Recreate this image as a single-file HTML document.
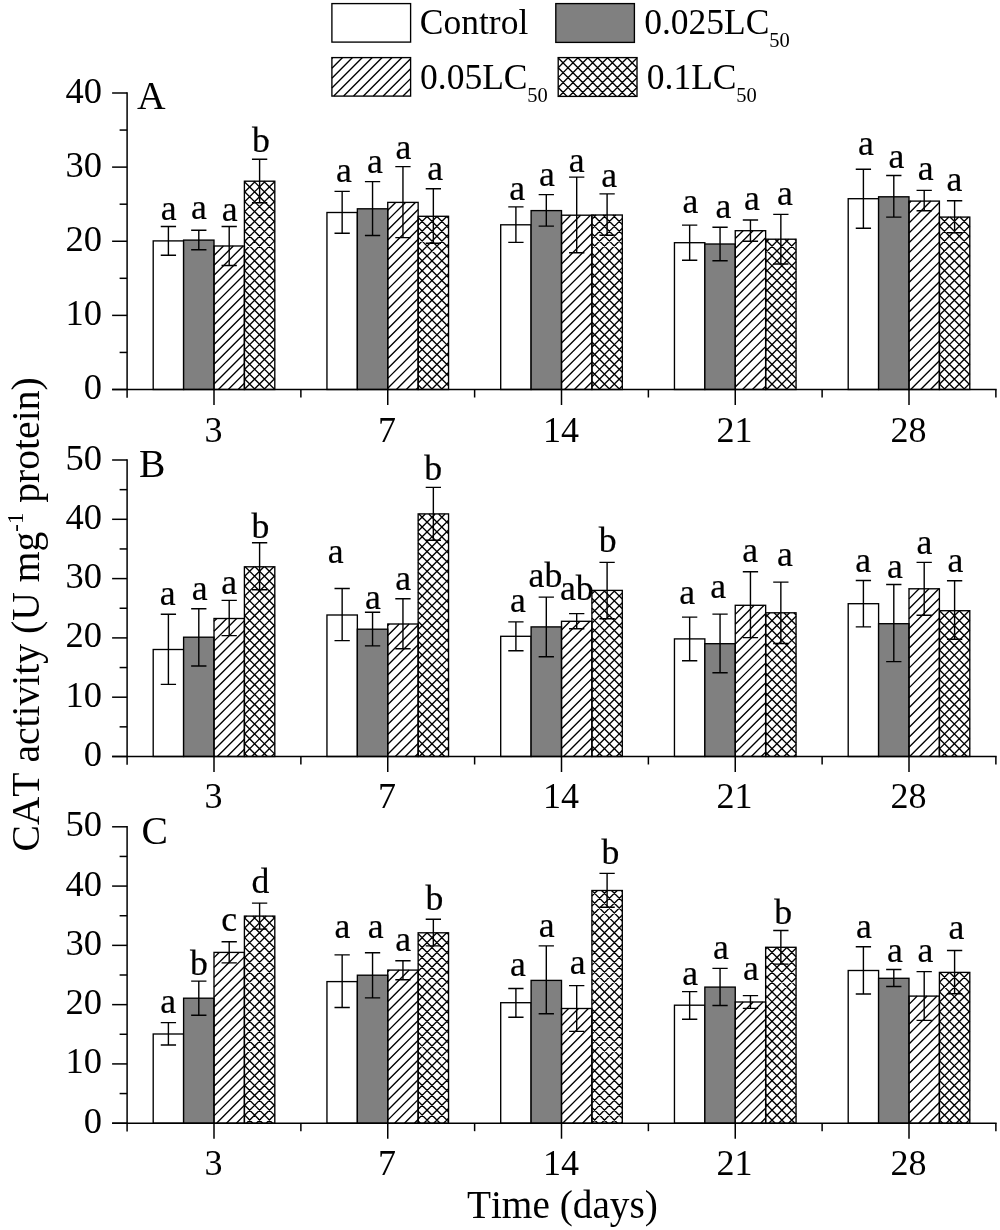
<!DOCTYPE html>
<html><head><meta charset="utf-8"><title>CAT activity</title>
<style>
html,body{margin:0;padding:0;background:#fff;}
body{width:1000px;height:1230px;overflow:hidden;font-family:"Liberation Serif",serif;}
svg{display:block;will-change:transform;}
text{font-kerning:none;}
</style></head><body>
<svg width="1000" height="1230" viewBox="0 0 1000 1230">
<rect width="100%" height="100%" fill="#fff"/>
<g font-family="'Liberation Serif', serif" fill="#000">
<rect x="331.9" y="3.6" width="78.7" height="38.5" fill="#fff" stroke="#000" stroke-width="1.35"/>
<text x="419.8" y="34.2" font-size="35.5">Control</text>
<rect x="555.8" y="3.6" width="78.6" height="38.8" fill="#808080" stroke="#000" stroke-width="1.35"/>
<text x="644.2" y="34.1" font-size="35.5">0.025LC<tspan font-size="20.5" dx="-0.2" dy="13.0">50</tspan></text>
<path d="M331.90 58.41L332.71 57.60M331.90 68.30L342.60 57.60M331.90 78.19L352.49 57.60M331.90 88.08L362.38 57.60M333.77 96.10L372.27 57.60M343.66 96.10L382.16 57.60M353.55 96.10L392.05 57.60M363.44 96.10L401.94 57.60M373.33 96.10L410.60 58.83M383.22 96.10L410.60 68.72M393.11 96.10L410.60 78.61M403.00 96.10L410.60 88.50" stroke="#000" stroke-width="1.35" fill="none"/>
<rect x="331.9" y="57.6" width="78.7" height="38.5" fill="none" stroke="#000" stroke-width="1.35"/>
<text x="420.0" y="88.5" font-size="35.5">0.05LC<tspan font-size="20.5" dx="-0.2" dy="13.0">50</tspan></text>
<path d="M558.20 57.90L558.50 57.60M558.20 67.76L568.36 57.60M558.20 77.61L578.21 57.60M558.20 87.47L588.07 57.60M559.12 96.40L597.92 57.60M568.98 96.40L607.78 57.60M578.84 96.40L617.64 57.60M588.69 96.40L627.49 57.60M598.55 96.40L637.00 57.95M608.40 96.40L637.00 67.80M618.26 96.40L637.00 77.66M628.12 96.40L637.00 87.52M558.20 87.47L567.13 96.40M558.20 77.61L576.99 96.40M558.20 67.76L586.84 96.40M558.20 57.90L596.70 96.40M567.76 57.60L606.56 96.40M577.61 57.60L616.41 96.40M587.47 57.60L626.27 96.40M597.32 57.60L636.12 96.40M607.18 57.60L637.00 87.42M617.04 57.60L637.00 77.56M626.89 57.60L637.00 67.71M636.75 57.60L637.00 57.85" stroke="#000" stroke-width="1.35" fill="none"/>
<rect x="558.2" y="57.6" width="78.8" height="38.8" fill="none" stroke="#000" stroke-width="1.35"/>
<text x="646.8" y="88.5" font-size="35.5">0.1LC<tspan font-size="20.5" dx="-0.2" dy="13.0">50</tspan></text>
<rect x="153.20" y="240.90" width="30.40" height="148.60" fill="#fff" stroke="#000" stroke-width="1.35"/>
<rect x="183.60" y="240.10" width="30.40" height="149.40" fill="#808080" stroke="#000" stroke-width="1.35"/>
<path d="M214.00 255.43L223.43 246.00M214.00 265.32L233.32 246.00M214.00 275.21L243.21 246.00M214.00 285.10L244.40 254.70M214.00 294.99L244.40 264.59M214.00 304.88L244.40 274.48M214.00 314.77L244.40 284.37M214.00 324.66L244.40 294.26M214.00 334.55L244.40 304.15M214.00 344.44L244.40 314.04M214.00 354.33L244.40 323.93M214.00 364.22L244.40 333.82M214.00 374.11L244.40 343.71M214.00 384.00L244.40 353.60M218.39 389.50L244.40 363.49M228.28 389.50L244.40 373.38M238.17 389.50L244.40 383.27" stroke="#000" stroke-width="1.35" fill="none"/>
<rect x="214.00" y="246.00" width="30.40" height="143.50" fill="none" stroke="#000" stroke-width="1.35"/>
<path d="M244.40 182.31L245.51 181.20M244.40 192.16L255.36 181.20M244.40 202.02L265.22 181.20M244.40 211.88L274.80 181.48M244.40 221.73L274.80 191.33M244.40 231.59L274.80 201.19M244.40 241.44L274.80 211.04M244.40 251.30L274.80 220.90M244.40 261.16L274.80 230.76M244.40 271.01L274.80 240.61M244.40 280.87L274.80 250.47M244.40 290.72L274.80 260.32M244.40 300.58L274.80 270.18M244.40 310.44L274.80 280.04M244.40 320.29L274.80 289.89M244.40 330.15L274.80 299.75M244.40 340.00L274.80 309.60M244.40 349.86L274.80 319.46M244.40 359.72L274.80 329.32M244.40 369.57L274.80 339.17M244.40 379.43L274.80 349.03M244.40 389.28L274.80 358.88M254.04 389.50L274.80 368.74M263.90 389.50L274.80 378.60M273.75 389.50L274.80 388.45M244.40 388.64L245.26 389.50M244.40 378.78L255.12 389.50M244.40 368.93L264.97 389.50M244.40 359.07L274.80 389.47M244.40 349.22L274.80 379.62M244.40 339.36L274.80 369.76M244.40 329.50L274.80 359.90M244.40 319.65L274.80 350.05M244.40 309.79L274.80 340.19M244.40 299.94L274.80 330.34M244.40 290.08L274.80 320.48M244.40 280.22L274.80 310.62M244.40 270.37L274.80 300.77M244.40 260.51L274.80 290.91M244.40 250.66L274.80 281.06M244.40 240.80L274.80 271.20M244.40 230.94L274.80 261.34M244.40 221.09L274.80 251.49M244.40 211.23L274.80 241.63M244.40 201.38L274.80 231.78M244.40 191.52L274.80 221.92M244.40 181.66L274.80 212.06M253.79 181.20L274.80 202.21M263.65 181.20L274.80 192.35M273.50 181.20L274.80 182.50" stroke="#000" stroke-width="1.35" fill="none"/>
<rect x="244.40" y="181.20" width="30.40" height="208.30" fill="none" stroke="#000" stroke-width="1.35"/>
<rect x="326.95" y="212.50" width="30.40" height="177.00" fill="#fff" stroke="#000" stroke-width="1.35"/>
<rect x="357.35" y="208.80" width="30.40" height="180.70" fill="#808080" stroke="#000" stroke-width="1.35"/>
<path d="M387.75 210.25L395.60 202.40M387.75 220.14L405.49 202.40M387.75 230.03L415.38 202.40M387.75 239.92L418.15 209.52M387.75 249.81L418.15 219.41M387.75 259.70L418.15 229.30M387.75 269.59L418.15 239.19M387.75 279.48L418.15 249.08M387.75 289.37L418.15 258.97M387.75 299.26L418.15 268.86M387.75 309.15L418.15 278.75M387.75 319.04L418.15 288.64M387.75 328.93L418.15 298.53M387.75 338.82L418.15 308.42M387.75 348.71L418.15 318.31M387.75 358.60L418.15 328.20M387.75 368.49L418.15 338.09M387.75 378.38L418.15 347.98M387.75 388.27L418.15 357.87M396.41 389.50L418.15 367.76M406.30 389.50L418.15 377.65M416.19 389.50L418.15 387.54" stroke="#000" stroke-width="1.35" fill="none"/>
<rect x="387.75" y="202.40" width="30.40" height="187.10" fill="none" stroke="#000" stroke-width="1.35"/>
<path d="M418.15 225.39L427.24 216.30M418.15 235.25L437.10 216.30M418.15 245.10L446.95 216.30M418.15 254.96L448.55 224.56M418.15 264.81L448.55 234.41M418.15 274.67L448.55 244.27M418.15 284.53L448.55 254.13M418.15 294.38L448.55 263.98M418.15 304.24L448.55 273.84M418.15 314.09L448.55 283.69M418.15 323.95L448.55 293.55M418.15 333.81L448.55 303.41M418.15 343.66L448.55 313.26M418.15 353.52L448.55 323.12M418.15 363.37L448.55 332.97M418.15 373.23L448.55 342.83M418.15 383.09L448.55 352.69M421.59 389.50L448.55 362.54M431.45 389.50L448.55 372.40M441.30 389.50L448.55 382.25M418.15 384.98L422.67 389.50M418.15 375.13L432.52 389.50M418.15 365.27L442.38 389.50M418.15 355.41L448.55 385.81M418.15 345.56L448.55 375.96M418.15 335.70L448.55 366.10M418.15 325.85L448.55 356.25M418.15 315.99L448.55 346.39M418.15 306.13L448.55 336.53M418.15 296.28L448.55 326.68M418.15 286.42L448.55 316.82M418.15 276.57L448.55 306.97M418.15 266.71L448.55 297.11M418.15 256.85L448.55 287.25M418.15 247.00L448.55 277.40M418.15 237.14L448.55 267.54M418.15 227.29L448.55 257.69M418.15 217.43L448.55 247.83M426.88 216.30L448.55 237.97M436.73 216.30L448.55 228.12M446.59 216.30L448.55 218.26" stroke="#000" stroke-width="1.35" fill="none"/>
<rect x="418.15" y="216.30" width="30.40" height="173.20" fill="none" stroke="#000" stroke-width="1.35"/>
<rect x="500.70" y="224.80" width="30.40" height="164.70" fill="#fff" stroke="#000" stroke-width="1.35"/>
<rect x="531.10" y="210.60" width="30.40" height="178.90" fill="#808080" stroke="#000" stroke-width="1.35"/>
<path d="M561.50 224.41L570.71 215.20M561.50 234.30L580.60 215.20M561.50 244.19L590.49 215.20M561.50 254.08L591.90 223.68M561.50 263.97L591.90 233.57M561.50 273.86L591.90 243.46M561.50 283.75L591.90 253.35M561.50 293.64L591.90 263.24M561.50 303.53L591.90 273.13M561.50 313.42L591.90 283.02M561.50 323.31L591.90 292.91M561.50 333.20L591.90 302.80M561.50 343.09L591.90 312.69M561.50 352.98L591.90 322.58M561.50 362.87L591.90 332.47M561.50 372.76L591.90 342.36M561.50 382.65L591.90 352.25M564.54 389.50L591.90 362.14M574.43 389.50L591.90 372.03M584.32 389.50L591.90 381.92" stroke="#000" stroke-width="1.35" fill="none"/>
<rect x="561.50" y="215.20" width="30.40" height="174.30" fill="none" stroke="#000" stroke-width="1.35"/>
<path d="M591.90 219.19L596.09 215.00M591.90 229.05L605.95 215.00M591.90 238.90L615.80 215.00M591.90 248.76L622.30 218.36M591.90 258.62L622.30 228.22M591.90 268.47L622.30 238.07M591.90 278.33L622.30 247.93M591.90 288.18L622.30 257.78M591.90 298.04L622.30 267.64M591.90 307.90L622.30 277.50M591.90 317.75L622.30 287.35M591.90 327.61L622.30 297.21M591.90 337.46L622.30 307.06M591.90 347.32L622.30 316.92M591.90 357.18L622.30 326.78M591.90 367.03L622.30 336.63M591.90 376.89L622.30 346.49M591.90 386.74L622.30 356.34M599.00 389.50L622.30 366.20M608.86 389.50L622.30 376.06M618.71 389.50L622.30 385.91M591.90 381.32L600.08 389.50M591.90 371.47L609.93 389.50M591.90 361.61L619.79 389.50M591.90 351.76L622.30 382.16M591.90 341.90L622.30 372.30M591.90 332.04L622.30 362.44M591.90 322.19L622.30 352.59M591.90 312.33L622.30 342.73M591.90 302.48L622.30 332.88M591.90 292.62L622.30 323.02M591.90 282.76L622.30 313.16M591.90 272.91L622.30 303.31M591.90 263.05L622.30 293.45M591.90 253.20L622.30 283.60M591.90 243.34L622.30 273.74M591.90 233.48L622.30 263.88M591.90 223.63L622.30 254.03M593.13 215.00L622.30 244.17M602.98 215.00L622.30 234.32M612.84 215.00L622.30 224.46" stroke="#000" stroke-width="1.35" fill="none"/>
<rect x="591.90" y="215.00" width="30.40" height="174.50" fill="none" stroke="#000" stroke-width="1.35"/>
<rect x="674.45" y="242.70" width="30.40" height="146.80" fill="#fff" stroke="#000" stroke-width="1.35"/>
<rect x="704.85" y="244.00" width="30.40" height="145.50" fill="#808080" stroke="#000" stroke-width="1.35"/>
<path d="M735.25 238.57L743.12 230.70M735.25 248.46L753.01 230.70M735.25 258.35L762.90 230.70M735.25 268.24L765.65 237.84M735.25 278.13L765.65 247.73M735.25 288.02L765.65 257.62M735.25 297.91L765.65 267.51M735.25 307.80L765.65 277.40M735.25 317.69L765.65 287.29M735.25 327.58L765.65 297.18M735.25 337.47L765.65 307.07M735.25 347.36L765.65 316.96M735.25 357.25L765.65 326.85M735.25 367.14L765.65 336.74M735.25 377.03L765.65 346.63M735.25 386.92L765.65 356.52M742.56 389.50L765.65 366.41M752.45 389.50L765.65 376.30M762.34 389.50L765.65 386.19" stroke="#000" stroke-width="1.35" fill="none"/>
<rect x="735.25" y="230.70" width="30.40" height="158.80" fill="none" stroke="#000" stroke-width="1.35"/>
<path d="M765.65 242.56L769.01 239.20M765.65 252.42L778.87 239.20M765.65 262.27L788.72 239.20M765.65 272.13L796.05 241.73M765.65 281.99L796.05 251.59M765.65 291.84L796.05 261.44M765.65 301.70L796.05 271.30M765.65 311.55L796.05 281.15M765.65 321.41L796.05 291.01M765.65 331.27L796.05 300.87M765.65 341.12L796.05 310.72M765.65 350.98L796.05 320.58M765.65 360.83L796.05 330.43M765.65 370.69L796.05 340.29M765.65 380.55L796.05 350.15M766.55 389.50L796.05 360.00M776.41 389.50L796.05 369.86M786.26 389.50L796.05 379.71M765.65 387.52L767.63 389.50M765.65 377.67L777.48 389.50M765.65 367.81L787.34 389.50M765.65 357.95L796.05 388.35M765.65 348.10L796.05 378.50M765.65 338.24L796.05 368.64M765.65 328.39L796.05 358.79M765.65 318.53L796.05 348.93M765.65 308.67L796.05 339.07M765.65 298.82L796.05 329.22M765.65 288.96L796.05 319.36M765.65 279.11L796.05 309.51M765.65 269.25L796.05 299.65M765.65 259.39L796.05 289.79M765.65 249.54L796.05 279.94M765.65 239.68L796.05 270.08M775.02 239.20L796.05 260.23M784.88 239.20L796.05 250.37M794.74 239.20L796.05 240.51" stroke="#000" stroke-width="1.35" fill="none"/>
<rect x="765.65" y="239.20" width="30.40" height="150.30" fill="none" stroke="#000" stroke-width="1.35"/>
<rect x="848.20" y="198.70" width="30.40" height="190.80" fill="#fff" stroke="#000" stroke-width="1.35"/>
<rect x="878.60" y="196.80" width="30.40" height="192.70" fill="#808080" stroke="#000" stroke-width="1.35"/>
<path d="M909.00 203.28L911.18 201.10M909.00 213.17L921.07 201.10M909.00 223.06L930.96 201.10M909.00 232.95L939.40 202.55M909.00 242.84L939.40 212.44M909.00 252.73L939.40 222.33M909.00 262.62L939.40 232.22M909.00 272.51L939.40 242.11M909.00 282.40L939.40 252.00M909.00 292.29L939.40 261.89M909.00 302.18L939.40 271.78M909.00 312.07L939.40 281.67M909.00 321.96L939.40 291.56M909.00 331.85L939.40 301.45M909.00 341.74L939.40 311.34M909.00 351.63L939.40 321.23M909.00 361.52L939.40 331.12M909.00 371.41L939.40 341.01M909.00 381.30L939.40 350.90M910.69 389.50L939.40 360.79M920.58 389.50L939.40 370.68M930.47 389.50L939.40 380.57" stroke="#000" stroke-width="1.35" fill="none"/>
<rect x="909.00" y="201.10" width="30.40" height="188.40" fill="none" stroke="#000" stroke-width="1.35"/>
<path d="M939.40 226.51L948.81 217.10M939.40 236.36L958.66 217.10M939.40 246.22L968.52 217.10M939.40 256.08L969.80 225.68M939.40 265.93L969.80 235.53M939.40 275.79L969.80 245.39M939.40 285.64L969.80 255.24M939.40 295.50L969.80 265.10M939.40 305.36L969.80 274.96M939.40 315.21L969.80 284.81M939.40 325.07L969.80 294.67M939.40 334.92L969.80 304.52M939.40 344.78L969.80 314.38M939.40 354.64L969.80 324.24M939.40 364.49L969.80 334.09M939.40 374.35L969.80 343.95M939.40 384.20L969.80 353.80M943.96 389.50L969.80 363.66M953.82 389.50L969.80 373.52M963.67 389.50L969.80 383.37M939.40 383.86L945.04 389.50M939.40 374.01L954.89 389.50M939.40 364.15L964.75 389.50M939.40 354.30L969.80 384.70M939.40 344.44L969.80 374.84M939.40 334.58L969.80 364.98M939.40 324.73L969.80 355.13M939.40 314.87L969.80 345.27M939.40 305.02L969.80 335.42M939.40 295.16L969.80 325.56M939.40 285.30L969.80 315.70M939.40 275.45L969.80 305.85M939.40 265.59L969.80 295.99M939.40 255.74L969.80 286.14M939.40 245.88L969.80 276.28M939.40 236.02L969.80 266.42M939.40 226.17L969.80 256.57M940.19 217.10L969.80 246.71M950.04 217.10L969.80 236.86M959.90 217.10L969.80 227.00" stroke="#000" stroke-width="1.35" fill="none"/>
<rect x="939.40" y="217.10" width="30.40" height="172.40" fill="none" stroke="#000" stroke-width="1.35"/>
<path d="M168.40 226.50 V255.30 M160.75 226.50 H176.05 M160.75 255.30 H176.05" stroke="#000" stroke-width="1.40" fill="none"/>
<text transform="translate(168.6,219.6) scale(1.020,1)" font-size="35.0" text-anchor="middle" stroke="#000" stroke-width="0.2">a</text>
<path d="M198.80 230.30 V249.70 M191.15 230.30 H206.45 M191.15 249.70 H206.45" stroke="#000" stroke-width="1.40" fill="none"/>
<text transform="translate(199.0,218.8) scale(1.020,1)" font-size="35.0" text-anchor="middle" stroke="#000" stroke-width="0.2">a</text>
<path d="M229.20 226.50 V265.50 M221.55 226.50 H236.85 M221.55 265.50 H236.85" stroke="#000" stroke-width="1.40" fill="none"/>
<text transform="translate(229.6,220.8) scale(1.020,1)" font-size="35.0" text-anchor="middle" stroke="#000" stroke-width="0.2">a</text>
<path d="M259.60 159.30 V202.80 M251.95 159.30 H267.25 M251.95 202.80 H267.25" stroke="#000" stroke-width="1.40" fill="none"/>
<text transform="translate(260.8,152.3) scale(1.020,1)" font-size="35.0" text-anchor="middle" stroke="#000" stroke-width="0.2">b</text>
<path d="M342.15 191.40 V233.30 M334.50 191.40 H349.80 M334.50 233.30 H349.80" stroke="#000" stroke-width="1.40" fill="none"/>
<text transform="translate(344.0,182.3) scale(1.020,1)" font-size="35.0" text-anchor="middle" stroke="#000" stroke-width="0.2">a</text>
<path d="M372.55 181.60 V235.50 M364.90 181.60 H380.20 M364.90 235.50 H380.20" stroke="#000" stroke-width="1.40" fill="none"/>
<text transform="translate(374.9,172.8) scale(1.020,1)" font-size="35.0" text-anchor="middle" stroke="#000" stroke-width="0.2">a</text>
<path d="M402.95 166.60 V237.60 M395.30 166.60 H410.60 M395.30 237.60 H410.60" stroke="#000" stroke-width="1.40" fill="none"/>
<text transform="translate(403.5,159.2) scale(1.020,1)" font-size="35.0" text-anchor="middle" stroke="#000" stroke-width="0.2">a</text>
<path d="M433.35 188.80 V243.20 M425.70 188.80 H441.00 M425.70 243.20 H441.00" stroke="#000" stroke-width="1.40" fill="none"/>
<text transform="translate(435.2,180.2) scale(1.020,1)" font-size="35.0" text-anchor="middle" stroke="#000" stroke-width="0.2">a</text>
<path d="M515.90 206.90 V242.40 M508.25 206.90 H523.55 M508.25 242.40 H523.55" stroke="#000" stroke-width="1.40" fill="none"/>
<text transform="translate(517.2,199.9) scale(1.020,1)" font-size="35.0" text-anchor="middle" stroke="#000" stroke-width="0.2">a</text>
<path d="M546.30 194.60 V226.10 M538.65 194.60 H553.95 M538.65 226.10 H553.95" stroke="#000" stroke-width="1.40" fill="none"/>
<text transform="translate(546.8,186.3) scale(1.020,1)" font-size="35.0" text-anchor="middle" stroke="#000" stroke-width="0.2">a</text>
<path d="M576.70 177.10 V252.80 M569.05 177.10 H584.35 M569.05 252.80 H584.35" stroke="#000" stroke-width="1.40" fill="none"/>
<text transform="translate(576.7,172.2) scale(1.020,1)" font-size="35.0" text-anchor="middle" stroke="#000" stroke-width="0.2">a</text>
<path d="M607.10 193.90 V235.20 M599.45 193.90 H614.75 M599.45 235.20 H614.75" stroke="#000" stroke-width="1.40" fill="none"/>
<text transform="translate(609.2,186.7) scale(1.020,1)" font-size="35.0" text-anchor="middle" stroke="#000" stroke-width="0.2">a</text>
<path d="M689.65 225.10 V260.30 M682.00 225.10 H697.30 M682.00 260.30 H697.30" stroke="#000" stroke-width="1.40" fill="none"/>
<text transform="translate(690.4,213.1) scale(1.020,1)" font-size="35.0" text-anchor="middle" stroke="#000" stroke-width="0.2">a</text>
<path d="M720.05 227.20 V260.80 M712.40 227.20 H727.70 M712.40 260.80 H727.70" stroke="#000" stroke-width="1.40" fill="none"/>
<text transform="translate(723.5,218.1) scale(1.020,1)" font-size="35.0" text-anchor="middle" stroke="#000" stroke-width="0.2">a</text>
<path d="M750.45 220.00 V241.30 M742.80 220.00 H758.10 M742.80 241.30 H758.10" stroke="#000" stroke-width="1.40" fill="none"/>
<text transform="translate(752.0,210.3) scale(1.020,1)" font-size="35.0" text-anchor="middle" stroke="#000" stroke-width="0.2">a</text>
<path d="M780.85 214.40 V264.00 M773.20 214.40 H788.50 M773.20 264.00 H788.50" stroke="#000" stroke-width="1.40" fill="none"/>
<text transform="translate(784.8,205.1) scale(1.020,1)" font-size="35.0" text-anchor="middle" stroke="#000" stroke-width="0.2">a</text>
<path d="M863.40 169.30 V228.30 M855.75 169.30 H871.05 M855.75 228.30 H871.05" stroke="#000" stroke-width="1.40" fill="none"/>
<text transform="translate(866.0,155.4) scale(1.020,1)" font-size="35.0" text-anchor="middle" stroke="#000" stroke-width="0.2">a</text>
<path d="M893.80 175.50 V217.10 M886.15 175.50 H901.45 M886.15 217.10 H901.45" stroke="#000" stroke-width="1.40" fill="none"/>
<text transform="translate(896.4,167.9) scale(1.020,1)" font-size="35.0" text-anchor="middle" stroke="#000" stroke-width="0.2">a</text>
<path d="M924.20 190.40 V210.70 M916.55 190.40 H931.85 M916.55 210.70 H931.85" stroke="#000" stroke-width="1.40" fill="none"/>
<text transform="translate(925.7,180.2) scale(1.020,1)" font-size="35.0" text-anchor="middle" stroke="#000" stroke-width="0.2">a</text>
<path d="M954.60 200.80 V232.80 M946.95 200.80 H962.25 M946.95 232.80 H962.25" stroke="#000" stroke-width="1.40" fill="none"/>
<text transform="translate(954.5,191.2) scale(1.020,1)" font-size="35.0" text-anchor="middle" stroke="#000" stroke-width="0.2">a</text>
<path d="M127.10 92.25 V397.80" stroke="#000" stroke-width="1.50" fill="none"/>
<path d="M112.10 389.50 H996.65" stroke="#000" stroke-width="1.50" fill="none"/>
<path d="M112.10 389.50 H127.10" stroke="#000" stroke-width="1.50"/>
<text x="102.1" y="399.0" font-size="36.5" text-anchor="end">0</text>
<path d="M119.60 352.44 H127.10" stroke="#000" stroke-width="1.50"/>
<path d="M112.10 315.38 H127.10" stroke="#000" stroke-width="1.50"/>
<text x="102.1" y="324.9" font-size="36.5" text-anchor="end">10</text>
<path d="M119.60 278.31 H127.10" stroke="#000" stroke-width="1.50"/>
<path d="M112.10 241.25 H127.10" stroke="#000" stroke-width="1.50"/>
<text x="102.1" y="250.8" font-size="36.5" text-anchor="end">20</text>
<path d="M119.60 204.19 H127.10" stroke="#000" stroke-width="1.50"/>
<path d="M112.10 167.12 H127.10" stroke="#000" stroke-width="1.50"/>
<text x="102.1" y="176.6" font-size="36.5" text-anchor="end">30</text>
<path d="M119.60 130.06 H127.10" stroke="#000" stroke-width="1.50"/>
<path d="M112.10 93.00 H127.10" stroke="#000" stroke-width="1.50"/>
<text x="102.1" y="102.5" font-size="36.5" text-anchor="end">40</text>
<path d="M214.00 389.50 V405.00" stroke="#000" stroke-width="1.50"/>
<text x="213.4" y="441.7" font-size="36" text-anchor="middle">3</text>
<path d="M300.88 389.50 V397.50" stroke="#000" stroke-width="1.50"/>
<path d="M387.75 389.50 V405.00" stroke="#000" stroke-width="1.50"/>
<text x="387.1" y="441.7" font-size="36" text-anchor="middle">7</text>
<path d="M474.62 389.50 V397.50" stroke="#000" stroke-width="1.50"/>
<path d="M561.50 389.50 V405.00" stroke="#000" stroke-width="1.50"/>
<text x="560.9" y="441.7" font-size="36" text-anchor="middle">14</text>
<path d="M648.38 389.50 V397.50" stroke="#000" stroke-width="1.50"/>
<path d="M735.25 389.50 V405.00" stroke="#000" stroke-width="1.50"/>
<text x="734.6" y="441.7" font-size="36" text-anchor="middle">21</text>
<path d="M822.12 389.50 V397.50" stroke="#000" stroke-width="1.50"/>
<path d="M909.00 389.50 V405.00" stroke="#000" stroke-width="1.50"/>
<text x="908.4" y="441.7" font-size="36" text-anchor="middle">28</text>
<path d="M995.88 389.50 V397.50" stroke="#000" stroke-width="1.50"/>
<text x="137.0" y="108.5" font-size="39.6">A</text>
<rect x="153.20" y="649.50" width="30.40" height="107.00" fill="#fff" stroke="#000" stroke-width="1.35"/>
<rect x="183.60" y="637.20" width="30.40" height="119.30" fill="#808080" stroke="#000" stroke-width="1.35"/>
<path d="M214.00 621.36L216.86 618.50M214.00 631.25L226.75 618.50M214.00 641.14L236.64 618.50M214.00 651.03L244.40 620.63M214.00 660.92L244.40 630.52M214.00 670.81L244.40 640.41M214.00 680.70L244.40 650.30M214.00 690.59L244.40 660.19M214.00 700.48L244.40 670.08M214.00 710.37L244.40 679.97M214.00 720.26L244.40 689.86M214.00 730.15L244.40 699.75M214.00 740.04L244.40 709.64M214.00 749.93L244.40 719.53M217.32 756.50L244.40 729.42M227.21 756.50L244.40 739.31M237.10 756.50L244.40 749.20" stroke="#000" stroke-width="1.35" fill="none"/>
<rect x="214.00" y="618.50" width="30.40" height="138.00" fill="none" stroke="#000" stroke-width="1.35"/>
<path d="M244.40 576.55L254.15 566.80M244.40 586.40L264.00 566.80M244.40 596.26L273.86 566.80M244.40 606.12L274.80 575.72M244.40 615.97L274.80 585.57M244.40 625.83L274.80 595.43M244.40 635.68L274.80 605.28M244.40 645.54L274.80 615.14M244.40 655.40L274.80 625.00M244.40 665.25L274.80 634.85M244.40 675.11L274.80 644.71M244.40 684.96L274.80 654.56M244.40 694.82L274.80 664.42M244.40 704.68L274.80 674.28M244.40 714.53L274.80 684.13M244.40 724.39L274.80 693.99M244.40 734.24L274.80 703.84M244.40 744.10L274.80 713.70M244.40 753.96L274.80 723.56M251.71 756.50L274.80 733.41M261.57 756.50L274.80 743.27M271.42 756.50L274.80 753.12M244.40 753.31L247.59 756.50M244.40 743.46L257.44 756.50M244.40 733.60L267.30 756.50M244.40 723.74L274.80 754.14M244.40 713.89L274.80 744.29M244.40 704.03L274.80 734.43M244.40 694.18L274.80 724.58M244.40 684.32L274.80 714.72M244.40 674.46L274.80 704.86M244.40 664.61L274.80 695.01M244.40 654.75L274.80 685.15M244.40 644.90L274.80 675.30M244.40 635.04L274.80 665.44M244.40 625.18L274.80 655.58M244.40 615.33L274.80 645.73M244.40 605.47L274.80 635.87M244.40 595.62L274.80 626.02M244.40 585.76L274.80 616.16M244.40 575.90L274.80 606.30M245.15 566.80L274.80 596.45M255.01 566.80L274.80 586.59M264.86 566.80L274.80 576.74M274.72 566.80L274.80 566.88" stroke="#000" stroke-width="1.35" fill="none"/>
<rect x="244.40" y="566.80" width="30.40" height="189.70" fill="none" stroke="#000" stroke-width="1.35"/>
<rect x="326.95" y="615.00" width="30.40" height="141.50" fill="#fff" stroke="#000" stroke-width="1.35"/>
<rect x="357.35" y="629.20" width="30.40" height="127.30" fill="#808080" stroke="#000" stroke-width="1.35"/>
<path d="M387.75 625.63L389.38 624.00M387.75 635.52L399.27 624.00M387.75 645.41L409.16 624.00M387.75 655.30L418.15 624.90M387.75 665.19L418.15 634.79M387.75 675.08L418.15 644.68M387.75 684.97L418.15 654.57M387.75 694.86L418.15 664.46M387.75 704.75L418.15 674.35M387.75 714.64L418.15 684.24M387.75 724.53L418.15 694.13M387.75 734.42L418.15 704.02M387.75 744.31L418.15 713.91M387.75 754.20L418.15 723.80M395.34 756.50L418.15 733.69M405.23 756.50L418.15 743.58M415.12 756.50L418.15 753.47" stroke="#000" stroke-width="1.35" fill="none"/>
<rect x="387.75" y="624.00" width="30.40" height="132.50" fill="none" stroke="#000" stroke-width="1.35"/>
<path d="M418.15 521.07L425.32 513.90M418.15 530.93L435.18 513.90M418.15 540.78L445.03 513.90M418.15 550.64L448.55 520.24M418.15 560.49L448.55 530.09M418.15 570.35L448.55 539.95M418.15 580.21L448.55 549.81M418.15 590.06L448.55 559.66M418.15 599.92L448.55 569.52M418.15 609.77L448.55 579.37M418.15 619.63L448.55 589.23M418.15 629.49L448.55 599.09M418.15 639.34L448.55 608.94M418.15 649.20L448.55 618.80M418.15 659.05L448.55 628.65M418.15 668.91L448.55 638.51M418.15 678.77L448.55 648.37M418.15 688.62L448.55 658.22M418.15 698.48L448.55 668.08M418.15 708.33L448.55 677.93M418.15 718.19L448.55 687.79M418.15 728.05L448.55 697.65M418.15 737.90L448.55 707.50M418.15 747.76L448.55 717.36M419.26 756.50L448.55 727.21M429.12 756.50L448.55 737.07M438.98 756.50L448.55 746.93M418.15 749.65L425.00 756.50M418.15 739.80L434.85 756.50M418.15 729.94L444.71 756.50M418.15 720.09L448.55 750.49M418.15 710.23L448.55 740.63M418.15 700.37L448.55 730.77M418.15 690.52L448.55 720.92M418.15 680.66L448.55 711.06M418.15 670.81L448.55 701.21M418.15 660.95L448.55 691.35M418.15 651.09L448.55 681.49M418.15 641.24L448.55 671.64M418.15 631.38L448.55 661.78M418.15 621.53L448.55 651.93M418.15 611.67L448.55 642.07M418.15 601.81L448.55 632.21M418.15 591.96L448.55 622.36M418.15 582.10L448.55 612.50M418.15 572.25L448.55 602.65M418.15 562.39L448.55 592.79M418.15 552.53L448.55 582.93M418.15 542.68L448.55 573.08M418.15 532.82L448.55 563.22M418.15 522.97L448.55 553.37M418.94 513.90L448.55 543.51M428.80 513.90L448.55 533.65M438.65 513.90L448.55 523.80" stroke="#000" stroke-width="1.35" fill="none"/>
<rect x="418.15" y="513.90" width="30.40" height="242.60" fill="none" stroke="#000" stroke-width="1.35"/>
<rect x="500.70" y="636.30" width="30.40" height="120.20" fill="#fff" stroke="#000" stroke-width="1.35"/>
<rect x="531.10" y="626.90" width="30.40" height="129.60" fill="#808080" stroke="#000" stroke-width="1.35"/>
<path d="M561.50 629.90L570.10 621.30M561.50 639.79L579.99 621.30M561.50 649.68L589.88 621.30M561.50 659.57L591.90 629.17M561.50 669.46L591.90 639.06M561.50 679.35L591.90 648.95M561.50 689.24L591.90 658.84M561.50 699.13L591.90 668.73M561.50 709.02L591.90 678.62M561.50 718.91L591.90 688.51M561.50 728.80L591.90 698.40M561.50 738.69L591.90 708.29M561.50 748.58L591.90 718.18M563.47 756.50L591.90 728.07M573.36 756.50L591.90 737.96M583.25 756.50L591.90 747.85" stroke="#000" stroke-width="1.35" fill="none"/>
<rect x="561.50" y="621.30" width="30.40" height="135.20" fill="none" stroke="#000" stroke-width="1.35"/>
<path d="M591.90 593.72L595.22 590.40M591.90 603.58L605.08 590.40M591.90 613.43L614.93 590.40M591.90 623.29L622.30 592.89M591.90 633.14L622.30 602.74M591.90 643.00L622.30 612.60M591.90 652.86L622.30 622.46M591.90 662.71L622.30 632.31M591.90 672.57L622.30 642.17M591.90 682.42L622.30 652.02M591.90 692.28L622.30 661.88M591.90 702.14L622.30 671.74M591.90 711.99L622.30 681.59M591.90 721.85L622.30 691.45M591.90 731.70L622.30 701.30M591.90 741.56L622.30 711.16M591.90 751.42L622.30 721.02M596.67 756.50L622.30 730.87M606.53 756.50L622.30 740.73M616.38 756.50L622.30 750.58M591.90 755.85L592.55 756.50M591.90 746.00L602.40 756.50M591.90 736.14L612.26 756.50M591.90 726.28L622.12 756.50M591.90 716.43L622.30 746.83M591.90 706.57L622.30 736.97M591.90 696.72L622.30 727.12M591.90 686.86L622.30 717.26M591.90 677.00L622.30 707.40M591.90 667.15L622.30 697.55M591.90 657.29L622.30 687.69M591.90 647.44L622.30 677.84M591.90 637.58L622.30 667.98M591.90 627.72L622.30 658.12M591.90 617.87L622.30 648.27M591.90 608.01L622.30 638.41M591.90 598.16L622.30 628.56M594.00 590.40L622.30 618.70M603.86 590.40L622.30 608.84M613.71 590.40L622.30 598.99" stroke="#000" stroke-width="1.35" fill="none"/>
<rect x="591.90" y="590.40" width="30.40" height="166.10" fill="none" stroke="#000" stroke-width="1.35"/>
<rect x="674.45" y="638.90" width="30.40" height="117.60" fill="#fff" stroke="#000" stroke-width="1.35"/>
<rect x="704.85" y="643.70" width="30.40" height="112.80" fill="#808080" stroke="#000" stroke-width="1.35"/>
<path d="M735.25 614.39L744.34 605.30M735.25 624.28L754.23 605.30M735.25 634.17L764.12 605.30M735.25 644.06L765.65 613.66M735.25 653.95L765.65 623.55M735.25 663.84L765.65 633.44M735.25 673.73L765.65 643.33M735.25 683.62L765.65 653.22M735.25 693.51L765.65 663.11M735.25 703.40L765.65 673.00M735.25 713.29L765.65 682.89M735.25 723.18L765.65 692.78M735.25 733.07L765.65 702.67M735.25 742.96L765.65 712.56M735.25 752.85L765.65 722.45M741.49 756.50L765.65 732.34M751.38 756.50L765.65 742.23M761.27 756.50L765.65 752.12" stroke="#000" stroke-width="1.35" fill="none"/>
<rect x="735.25" y="605.30" width="30.40" height="151.20" fill="none" stroke="#000" stroke-width="1.35"/>
<path d="M765.65 617.09L769.94 612.80M765.65 626.95L779.80 612.80M765.65 636.80L789.65 612.80M765.65 646.66L796.05 616.26M765.65 656.51L796.05 626.11M765.65 666.37L796.05 635.97M765.65 676.23L796.05 645.83M765.65 686.08L796.05 655.68M765.65 695.94L796.05 665.54M765.65 705.79L796.05 675.39M765.65 715.65L796.05 685.25M765.65 725.51L796.05 695.11M765.65 735.36L796.05 704.96M765.65 745.22L796.05 714.82M765.65 755.07L796.05 724.67M774.08 756.50L796.05 734.53M783.94 756.50L796.05 744.39M793.79 756.50L796.05 754.24M765.65 752.19L769.96 756.50M765.65 742.34L779.81 756.50M765.65 732.48L789.67 756.50M765.65 722.63L796.05 753.03M765.65 712.77L796.05 743.17M765.65 702.91L796.05 733.31M765.65 693.06L796.05 723.46M765.65 683.20L796.05 713.60M765.65 673.35L796.05 703.75M765.65 663.49L796.05 693.89M765.65 653.63L796.05 684.03M765.65 643.78L796.05 674.18M765.65 633.92L796.05 664.32M765.65 624.07L796.05 654.47M765.65 614.21L796.05 644.61M774.10 612.80L796.05 634.75M783.95 612.80L796.05 624.90M793.81 612.80L796.05 615.04" stroke="#000" stroke-width="1.35" fill="none"/>
<rect x="765.65" y="612.80" width="30.40" height="143.70" fill="none" stroke="#000" stroke-width="1.35"/>
<rect x="848.20" y="603.70" width="30.40" height="152.80" fill="#fff" stroke="#000" stroke-width="1.35"/>
<rect x="878.60" y="623.70" width="30.40" height="132.80" fill="#808080" stroke="#000" stroke-width="1.35"/>
<path d="M909.00 588.99L909.19 588.80M909.00 598.88L919.08 588.80M909.00 608.77L928.97 588.80M909.00 618.66L938.86 588.80M909.00 628.55L939.40 598.15M909.00 638.44L939.40 608.04M909.00 648.33L939.40 617.93M909.00 658.22L939.40 627.82M909.00 668.11L939.40 637.71M909.00 678.00L939.40 647.60M909.00 687.89L939.40 657.49M909.00 697.78L939.40 667.38M909.00 707.67L939.40 677.27M909.00 717.56L939.40 687.16M909.00 727.45L939.40 697.05M909.00 737.34L939.40 706.94M909.00 747.23L939.40 716.83M909.62 756.50L939.40 726.72M919.51 756.50L939.40 736.61M929.40 756.50L939.40 746.50M939.29 756.50L939.40 756.39" stroke="#000" stroke-width="1.35" fill="none"/>
<rect x="909.00" y="588.80" width="30.40" height="167.70" fill="none" stroke="#000" stroke-width="1.35"/>
<path d="M939.40 610.89L939.59 610.70M939.40 620.75L949.45 610.70M939.40 630.60L959.30 610.70M939.40 640.46L969.16 610.70M939.40 650.32L969.80 619.92M939.40 660.17L969.80 629.77M939.40 670.03L969.80 639.63M939.40 679.88L969.80 649.48M939.40 689.74L969.80 659.34M939.40 699.60L969.80 669.20M939.40 709.45L969.80 679.05M939.40 719.31L969.80 688.91M939.40 729.16L969.80 698.76M939.40 739.02L969.80 708.62M939.40 748.88L969.80 718.48M941.63 756.50L969.80 728.33M951.49 756.50L969.80 738.19M961.34 756.50L969.80 748.04M939.40 748.54L947.36 756.50M939.40 738.68L957.22 756.50M939.40 728.82L967.08 756.50M939.40 718.97L969.80 749.37M939.40 709.11L969.80 739.51M939.40 699.26L969.80 729.66M939.40 689.40L969.80 719.80M939.40 679.54L969.80 709.94M939.40 669.69L969.80 700.09M939.40 659.83L969.80 690.23M939.40 649.98L969.80 680.38M939.40 640.12L969.80 670.52M939.40 630.26L969.80 660.66M939.40 620.41L969.80 650.81M939.55 610.70L969.80 640.95M949.40 610.70L969.80 631.10M959.26 610.70L969.80 621.24M969.12 610.70L969.80 611.38" stroke="#000" stroke-width="1.35" fill="none"/>
<rect x="939.40" y="610.70" width="30.40" height="145.80" fill="none" stroke="#000" stroke-width="1.35"/>
<path d="M168.40 614.30 V684.40 M160.75 614.30 H176.05 M160.75 684.40 H176.05" stroke="#000" stroke-width="1.40" fill="none"/>
<text transform="translate(167.6,605.1) scale(1.020,1)" font-size="35.0" text-anchor="middle" stroke="#000" stroke-width="0.2">a</text>
<path d="M198.80 608.70 V666.00 M191.15 608.70 H206.45 M191.15 666.00 H206.45" stroke="#000" stroke-width="1.40" fill="none"/>
<text transform="translate(199.6,599.9) scale(1.020,1)" font-size="35.0" text-anchor="middle" stroke="#000" stroke-width="0.2">a</text>
<path d="M229.20 600.40 V635.60 M221.55 600.40 H236.85 M221.55 635.60 H236.85" stroke="#000" stroke-width="1.40" fill="none"/>
<text transform="translate(229.2,594.0) scale(1.020,1)" font-size="35.0" text-anchor="middle" stroke="#000" stroke-width="0.2">a</text>
<path d="M259.60 542.80 V589.70 M251.95 542.80 H267.25 M251.95 589.70 H267.25" stroke="#000" stroke-width="1.40" fill="none"/>
<text transform="translate(260.4,538.0) scale(1.020,1)" font-size="35.0" text-anchor="middle" stroke="#000" stroke-width="0.2">b</text>
<path d="M342.15 588.50 V640.60 M334.50 588.50 H349.80 M334.50 640.60 H349.80" stroke="#000" stroke-width="1.40" fill="none"/>
<text transform="translate(335.6,563.2) scale(1.020,1)" font-size="35.0" text-anchor="middle" stroke="#000" stroke-width="0.2">a</text>
<path d="M372.55 612.30 V645.90 M364.90 612.30 H380.20 M364.90 645.90 H380.20" stroke="#000" stroke-width="1.40" fill="none"/>
<text transform="translate(373.0,608.8) scale(1.020,1)" font-size="35.0" text-anchor="middle" stroke="#000" stroke-width="0.2">a</text>
<path d="M402.95 598.80 V648.70 M395.30 598.80 H410.60 M395.30 648.70 H410.60" stroke="#000" stroke-width="1.40" fill="none"/>
<text transform="translate(403.1,590.2) scale(1.020,1)" font-size="35.0" text-anchor="middle" stroke="#000" stroke-width="0.2">a</text>
<path d="M433.35 487.40 V540.20 M425.70 487.40 H441.00 M425.70 540.20 H441.00" stroke="#000" stroke-width="1.40" fill="none"/>
<text transform="translate(433.2,480.1) scale(1.020,1)" font-size="35.0" text-anchor="middle" stroke="#000" stroke-width="0.2">b</text>
<path d="M515.90 621.90 V650.70 M508.25 621.90 H523.55 M508.25 650.70 H523.55" stroke="#000" stroke-width="1.40" fill="none"/>
<text transform="translate(518.0,611.6) scale(1.020,1)" font-size="35.0" text-anchor="middle" stroke="#000" stroke-width="0.2">a</text>
<path d="M546.30 597.10 V656.80 M538.65 597.10 H553.95 M538.65 656.80 H553.95" stroke="#000" stroke-width="1.40" fill="none"/>
<text transform="translate(545.4,586.9) scale(1.020,1)" font-size="35.0" text-anchor="middle" stroke="#000" stroke-width="0.2">ab</text>
<path d="M576.70 613.60 V628.80 M569.05 613.60 H584.35 M569.05 628.80 H584.35" stroke="#000" stroke-width="1.40" fill="none"/>
<text transform="translate(576.8,600.0) scale(1.020,1)" font-size="35.0" text-anchor="middle" stroke="#000" stroke-width="0.2">ab</text>
<path d="M607.10 562.40 V618.70 M599.45 562.40 H614.75 M599.45 618.70 H614.75" stroke="#000" stroke-width="1.40" fill="none"/>
<text transform="translate(607.6,552.0) scale(1.020,1)" font-size="35.0" text-anchor="middle" stroke="#000" stroke-width="0.2">b</text>
<path d="M689.65 617.10 V660.80 M682.00 617.10 H697.30 M682.00 660.80 H697.30" stroke="#000" stroke-width="1.40" fill="none"/>
<text transform="translate(687.2,603.6) scale(1.020,1)" font-size="35.0" text-anchor="middle" stroke="#000" stroke-width="0.2">a</text>
<path d="M720.05 614.10 V672.80 M712.40 614.10 H727.70 M712.40 672.80 H727.70" stroke="#000" stroke-width="1.40" fill="none"/>
<text transform="translate(718.1,597.5) scale(1.020,1)" font-size="35.0" text-anchor="middle" stroke="#000" stroke-width="0.2">a</text>
<path d="M750.45 571.70 V637.60 M742.80 571.70 H758.10 M742.80 637.60 H758.10" stroke="#000" stroke-width="1.40" fill="none"/>
<text transform="translate(750.1,561.9) scale(1.020,1)" font-size="35.0" text-anchor="middle" stroke="#000" stroke-width="0.2">a</text>
<path d="M780.85 582.10 V643.50 M773.20 582.10 H788.50 M773.20 643.50 H788.50" stroke="#000" stroke-width="1.40" fill="none"/>
<text transform="translate(784.8,566.0) scale(1.020,1)" font-size="35.0" text-anchor="middle" stroke="#000" stroke-width="0.2">a</text>
<path d="M863.40 580.50 V626.90 M855.75 580.50 H871.05 M855.75 626.90 H871.05" stroke="#000" stroke-width="1.40" fill="none"/>
<text transform="translate(863.1,571.6) scale(1.020,1)" font-size="35.0" text-anchor="middle" stroke="#000" stroke-width="0.2">a</text>
<path d="M893.80 584.50 V661.60 M886.15 584.50 H901.45 M886.15 661.60 H901.45" stroke="#000" stroke-width="1.40" fill="none"/>
<text transform="translate(894.8,577.9) scale(1.020,1)" font-size="35.0" text-anchor="middle" stroke="#000" stroke-width="0.2">a</text>
<path d="M924.20 562.40 V615.20 M916.55 562.40 H931.85 M916.55 615.20 H931.85" stroke="#000" stroke-width="1.40" fill="none"/>
<text transform="translate(924.4,553.5) scale(1.020,1)" font-size="35.0" text-anchor="middle" stroke="#000" stroke-width="0.2">a</text>
<path d="M954.60 580.80 V639.20 M946.95 580.80 H962.25 M946.95 639.20 H962.25" stroke="#000" stroke-width="1.40" fill="none"/>
<text transform="translate(955.3,571.6) scale(1.020,1)" font-size="35.0" text-anchor="middle" stroke="#000" stroke-width="0.2">a</text>
<path d="M127.10 459.25 V764.80" stroke="#000" stroke-width="1.50" fill="none"/>
<path d="M112.10 756.50 H996.65" stroke="#000" stroke-width="1.50" fill="none"/>
<path d="M112.10 756.50 H127.10" stroke="#000" stroke-width="1.50"/>
<text x="102.1" y="766.0" font-size="36.5" text-anchor="end">0</text>
<path d="M119.60 726.85 H127.10" stroke="#000" stroke-width="1.50"/>
<path d="M112.10 697.20 H127.10" stroke="#000" stroke-width="1.50"/>
<text x="102.1" y="706.7" font-size="36.5" text-anchor="end">10</text>
<path d="M119.60 667.55 H127.10" stroke="#000" stroke-width="1.50"/>
<path d="M112.10 637.90 H127.10" stroke="#000" stroke-width="1.50"/>
<text x="102.1" y="647.4" font-size="36.5" text-anchor="end">20</text>
<path d="M119.60 608.25 H127.10" stroke="#000" stroke-width="1.50"/>
<path d="M112.10 578.60 H127.10" stroke="#000" stroke-width="1.50"/>
<text x="102.1" y="588.1" font-size="36.5" text-anchor="end">30</text>
<path d="M119.60 548.95 H127.10" stroke="#000" stroke-width="1.50"/>
<path d="M112.10 519.30 H127.10" stroke="#000" stroke-width="1.50"/>
<text x="102.1" y="528.8" font-size="36.5" text-anchor="end">40</text>
<path d="M119.60 489.65 H127.10" stroke="#000" stroke-width="1.50"/>
<path d="M112.10 460.00 H127.10" stroke="#000" stroke-width="1.50"/>
<text x="102.1" y="469.5" font-size="36.5" text-anchor="end">50</text>
<path d="M214.00 756.50 V772.00" stroke="#000" stroke-width="1.50"/>
<text x="213.4" y="808.4" font-size="36" text-anchor="middle">3</text>
<path d="M300.88 756.50 V764.50" stroke="#000" stroke-width="1.50"/>
<path d="M387.75 756.50 V772.00" stroke="#000" stroke-width="1.50"/>
<text x="387.1" y="808.4" font-size="36" text-anchor="middle">7</text>
<path d="M474.62 756.50 V764.50" stroke="#000" stroke-width="1.50"/>
<path d="M561.50 756.50 V772.00" stroke="#000" stroke-width="1.50"/>
<text x="560.9" y="808.4" font-size="36" text-anchor="middle">14</text>
<path d="M648.38 756.50 V764.50" stroke="#000" stroke-width="1.50"/>
<path d="M735.25 756.50 V772.00" stroke="#000" stroke-width="1.50"/>
<text x="734.6" y="808.4" font-size="36" text-anchor="middle">21</text>
<path d="M822.12 756.50 V764.50" stroke="#000" stroke-width="1.50"/>
<path d="M909.00 756.50 V772.00" stroke="#000" stroke-width="1.50"/>
<text x="908.4" y="808.4" font-size="36" text-anchor="middle">28</text>
<path d="M995.88 756.50 V764.50" stroke="#000" stroke-width="1.50"/>
<text x="139.0" y="476.7" font-size="39.6">B</text>
<rect x="153.20" y="1034.00" width="30.40" height="89.20" fill="#fff" stroke="#000" stroke-width="1.35"/>
<rect x="183.60" y="998.20" width="30.40" height="125.00" fill="#808080" stroke="#000" stroke-width="1.35"/>
<path d="M214.00 957.62L219.22 952.40M214.00 967.51L229.11 952.40M214.00 977.40L239.00 952.40M214.00 987.29L244.40 956.89M214.00 997.18L244.40 966.78M214.00 1007.07L244.40 976.67M214.00 1016.96L244.40 986.56M214.00 1026.85L244.40 996.45M214.00 1036.74L244.40 1006.34M214.00 1046.63L244.40 1016.23M214.00 1056.52L244.40 1026.12M214.00 1066.41L244.40 1036.01M214.00 1076.30L244.40 1045.90M214.00 1086.19L244.40 1055.79M214.00 1096.08L244.40 1065.68M214.00 1105.97L244.40 1075.57M214.00 1115.86L244.40 1085.46M216.55 1123.20L244.40 1095.35M226.44 1123.20L244.40 1105.24M236.33 1123.20L244.40 1115.13" stroke="#000" stroke-width="1.35" fill="none"/>
<rect x="214.00" y="952.40" width="30.40" height="170.80" fill="none" stroke="#000" stroke-width="1.35"/>
<path d="M244.40 918.31L246.61 916.10M244.40 928.16L256.46 916.10M244.40 938.02L266.32 916.10M244.40 947.88L274.80 917.48M244.40 957.73L274.80 927.33M244.40 967.59L274.80 937.19M244.40 977.44L274.80 947.04M244.40 987.30L274.80 956.90M244.40 997.16L274.80 966.76M244.40 1007.01L274.80 976.61M244.40 1016.87L274.80 986.47M244.40 1026.72L274.80 996.32M244.40 1036.58L274.80 1006.18M244.40 1046.44L274.80 1016.04M244.40 1056.29L274.80 1025.89M244.40 1066.15L274.80 1035.75M244.40 1076.00L274.80 1045.60M244.40 1085.86L274.80 1055.46M244.40 1095.72L274.80 1065.32M244.40 1105.57L274.80 1075.17M244.40 1115.43L274.80 1085.03M246.48 1123.20L274.80 1094.88M256.34 1123.20L274.80 1104.74M266.20 1123.20L274.80 1114.60M244.40 1114.78L252.82 1123.20M244.40 1104.93L262.67 1123.20M244.40 1095.07L272.53 1123.20M244.40 1085.22L274.80 1115.62M244.40 1075.36L274.80 1105.76M244.40 1065.50L274.80 1095.90M244.40 1055.65L274.80 1086.05M244.40 1045.79L274.80 1076.19M244.40 1035.94L274.80 1066.34M244.40 1026.08L274.80 1056.48M244.40 1016.22L274.80 1046.62M244.40 1006.37L274.80 1036.77M244.40 996.51L274.80 1026.91M244.40 986.66L274.80 1017.06M244.40 976.80L274.80 1007.20M244.40 966.94L274.80 997.34M244.40 957.09L274.80 987.49M244.40 947.23L274.80 977.63M244.40 937.38L274.80 967.78M244.40 927.52L274.80 957.92M244.40 917.66L274.80 948.06M252.69 916.10L274.80 938.21M262.55 916.10L274.80 928.35M272.40 916.10L274.80 918.50" stroke="#000" stroke-width="1.35" fill="none"/>
<rect x="244.40" y="916.10" width="30.40" height="207.10" fill="none" stroke="#000" stroke-width="1.35"/>
<rect x="326.95" y="981.60" width="30.40" height="141.60" fill="#fff" stroke="#000" stroke-width="1.35"/>
<rect x="357.35" y="975.20" width="30.40" height="148.00" fill="#808080" stroke="#000" stroke-width="1.35"/>
<path d="M387.75 971.78L389.43 970.10M387.75 981.67L399.32 970.10M387.75 991.56L409.21 970.10M387.75 1001.45L418.15 971.05M387.75 1011.34L418.15 980.94M387.75 1021.23L418.15 990.83M387.75 1031.12L418.15 1000.72M387.75 1041.01L418.15 1010.61M387.75 1050.90L418.15 1020.50M387.75 1060.79L418.15 1030.39M387.75 1070.68L418.15 1040.28M387.75 1080.57L418.15 1050.17M387.75 1090.46L418.15 1060.06M387.75 1100.35L418.15 1069.95M387.75 1110.24L418.15 1079.84M387.75 1120.13L418.15 1089.73M394.57 1123.20L418.15 1099.62M404.46 1123.20L418.15 1109.51M414.35 1123.20L418.15 1119.40" stroke="#000" stroke-width="1.35" fill="none"/>
<rect x="387.75" y="970.10" width="30.40" height="153.10" fill="none" stroke="#000" stroke-width="1.35"/>
<path d="M418.15 941.68L427.03 932.80M418.15 951.53L436.88 932.80M418.15 961.39L446.74 932.80M418.15 971.25L448.55 940.85M418.15 981.10L448.55 950.70M418.15 990.96L448.55 960.56M418.15 1000.81L448.55 970.41M418.15 1010.67L448.55 980.27M418.15 1020.53L448.55 990.13M418.15 1030.38L448.55 999.98M418.15 1040.24L448.55 1009.84M418.15 1050.09L448.55 1019.69M418.15 1059.95L448.55 1029.55M418.15 1069.81L448.55 1039.41M418.15 1079.66L448.55 1049.26M418.15 1089.52L448.55 1059.12M418.15 1099.37L448.55 1068.97M418.15 1109.23L448.55 1078.83M418.15 1119.09L448.55 1088.69M423.89 1123.20L448.55 1098.54M433.75 1123.20L448.55 1108.40M443.60 1123.20L448.55 1118.25M418.15 1120.98L420.37 1123.20M418.15 1111.13L430.22 1123.20M418.15 1101.27L440.08 1123.20M418.15 1091.41L448.55 1121.81M418.15 1081.56L448.55 1111.96M418.15 1071.70L448.55 1102.10M418.15 1061.85L448.55 1092.25M418.15 1051.99L448.55 1082.39M418.15 1042.13L448.55 1072.53M418.15 1032.28L448.55 1062.68M418.15 1022.42L448.55 1052.82M418.15 1012.57L448.55 1042.97M418.15 1002.71L448.55 1033.11M418.15 992.85L448.55 1023.25M418.15 983.00L448.55 1013.40M418.15 973.14L448.55 1003.54M418.15 963.29L448.55 993.69M418.15 953.43L448.55 983.83M418.15 943.57L448.55 973.97M418.15 933.72L448.55 964.12M427.09 932.80L448.55 954.26M436.94 932.80L448.55 944.41M446.80 932.80L448.55 934.55" stroke="#000" stroke-width="1.35" fill="none"/>
<rect x="418.15" y="932.80" width="30.40" height="190.40" fill="none" stroke="#000" stroke-width="1.35"/>
<rect x="500.70" y="1002.70" width="30.40" height="120.50" fill="#fff" stroke="#000" stroke-width="1.35"/>
<rect x="531.10" y="980.40" width="30.40" height="142.80" fill="#808080" stroke="#000" stroke-width="1.35"/>
<path d="M561.50 1015.61L568.61 1008.50M561.50 1025.50L578.50 1008.50M561.50 1035.39L588.39 1008.50M561.50 1045.28L591.90 1014.88M561.50 1055.17L591.90 1024.77M561.50 1065.06L591.90 1034.66M561.50 1074.95L591.90 1044.55M561.50 1084.84L591.90 1054.44M561.50 1094.73L591.90 1064.33M561.50 1104.62L591.90 1074.22M561.50 1114.51L591.90 1084.11M562.70 1123.20L591.90 1094.00M572.59 1123.20L591.90 1103.89M582.48 1123.20L591.90 1113.78" stroke="#000" stroke-width="1.35" fill="none"/>
<rect x="561.50" y="1008.50" width="30.40" height="114.70" fill="none" stroke="#000" stroke-width="1.35"/>
<path d="M591.90 896.06L597.46 890.50M591.90 905.91L607.31 890.50M591.90 915.77L617.17 890.50M591.90 925.62L622.30 895.22M591.90 935.48L622.30 905.08M591.90 945.34L622.30 914.94M591.90 955.19L622.30 924.79M591.90 965.05L622.30 934.65M591.90 974.90L622.30 944.50M591.90 984.76L622.30 954.36M591.90 994.62L622.30 964.22M591.90 1004.47L622.30 974.07M591.90 1014.33L622.30 983.93M591.90 1024.18L622.30 993.78M591.90 1034.04L622.30 1003.64M591.90 1043.90L622.30 1013.50M591.90 1053.75L622.30 1023.35M591.90 1063.61L622.30 1033.21M591.90 1073.46L622.30 1043.06M591.90 1083.32L622.30 1052.92M591.90 1093.18L622.30 1062.78M591.90 1103.03L622.30 1072.63M591.90 1112.89L622.30 1082.49M591.90 1122.74L622.30 1092.34M601.30 1123.20L622.30 1102.20M611.16 1123.20L622.30 1112.06M621.01 1123.20L622.30 1121.91M591.90 1117.32L597.78 1123.20M591.90 1107.47L607.63 1123.20M591.90 1097.61L617.49 1123.20M591.90 1087.76L622.30 1118.16M591.90 1077.90L622.30 1108.30M591.90 1068.04L622.30 1098.44M591.90 1058.19L622.30 1088.59M591.90 1048.33L622.30 1078.73M591.90 1038.48L622.30 1068.88M591.90 1028.62L622.30 1059.02M591.90 1018.76L622.30 1049.16M591.90 1008.91L622.30 1039.31M591.90 999.05L622.30 1029.45M591.90 989.20L622.30 1019.60M591.90 979.34L622.30 1009.74M591.90 969.48L622.30 999.88M591.90 959.63L622.30 990.03M591.90 949.77L622.30 980.17M591.90 939.92L622.30 970.32M591.90 930.06L622.30 960.46M591.90 920.20L622.30 950.60M591.90 910.35L622.30 940.75M591.90 900.49L622.30 930.89M591.90 890.64L622.30 921.04M601.62 890.50L622.30 911.18M611.48 890.50L622.30 901.32M621.33 890.50L622.30 891.47" stroke="#000" stroke-width="1.35" fill="none"/>
<rect x="591.90" y="890.50" width="30.40" height="232.70" fill="none" stroke="#000" stroke-width="1.35"/>
<rect x="674.45" y="1005.20" width="30.40" height="118.00" fill="#fff" stroke="#000" stroke-width="1.35"/>
<rect x="704.85" y="987.10" width="30.40" height="136.10" fill="#808080" stroke="#000" stroke-width="1.35"/>
<path d="M735.25 1009.99L743.24 1002.00M735.25 1019.88L753.13 1002.00M735.25 1029.77L763.02 1002.00M735.25 1039.66L765.65 1009.26M735.25 1049.55L765.65 1019.15M735.25 1059.44L765.65 1029.04M735.25 1069.33L765.65 1038.93M735.25 1079.22L765.65 1048.82M735.25 1089.11L765.65 1058.71M735.25 1099.00L765.65 1068.60M735.25 1108.89L765.65 1078.49M735.25 1118.78L765.65 1088.38M740.72 1123.20L765.65 1098.27M750.61 1123.20L765.65 1108.16M760.50 1123.20L765.65 1118.05" stroke="#000" stroke-width="1.35" fill="none"/>
<rect x="735.25" y="1002.00" width="30.40" height="121.20" fill="none" stroke="#000" stroke-width="1.35"/>
<path d="M765.65 948.99L767.34 947.30M765.65 958.85L777.20 947.30M765.65 968.71L787.06 947.30M765.65 978.56L796.05 948.16M765.65 988.42L796.05 958.02M765.65 998.27L796.05 967.87M765.65 1008.13L796.05 977.73M765.65 1017.99L796.05 987.59M765.65 1027.84L796.05 997.44M765.65 1037.70L796.05 1007.30M765.65 1047.55L796.05 1017.15M765.65 1057.41L796.05 1027.01M765.65 1067.27L796.05 1036.87M765.65 1077.12L796.05 1046.72M765.65 1086.98L796.05 1056.58M765.65 1096.83L796.05 1066.43M765.65 1106.69L796.05 1076.29M765.65 1116.55L796.05 1086.15M768.85 1123.20L796.05 1096.00M778.71 1123.20L796.05 1105.86M788.56 1123.20L796.05 1115.71M765.65 1113.67L775.18 1123.20M765.65 1103.81L785.04 1123.20M765.65 1093.95L794.90 1123.20M765.65 1084.10L796.05 1114.50M765.65 1074.24L796.05 1104.64M765.65 1064.39L796.05 1094.79M765.65 1054.53L796.05 1084.93M765.65 1044.67L796.05 1075.07M765.65 1034.82L796.05 1065.22M765.65 1024.96L796.05 1055.36M765.65 1015.11L796.05 1045.51M765.65 1005.25L796.05 1035.65M765.65 995.39L796.05 1025.79M765.65 985.54L796.05 1015.94M765.65 975.68L796.05 1006.08M765.65 965.83L796.05 996.23M765.65 955.97L796.05 986.37M766.84 947.30L796.05 976.51M776.69 947.30L796.05 966.66M786.55 947.30L796.05 956.80" stroke="#000" stroke-width="1.35" fill="none"/>
<rect x="765.65" y="947.30" width="30.40" height="175.90" fill="none" stroke="#000" stroke-width="1.35"/>
<rect x="848.20" y="970.50" width="30.40" height="152.70" fill="#fff" stroke="#000" stroke-width="1.35"/>
<rect x="878.60" y="978.30" width="30.40" height="144.90" fill="#808080" stroke="#000" stroke-width="1.35"/>
<path d="M909.00 1004.37L917.27 996.10M909.00 1014.26L927.16 996.10M909.00 1024.15L937.05 996.10M909.00 1034.04L939.40 1003.64M909.00 1043.93L939.40 1013.53M909.00 1053.82L939.40 1023.42M909.00 1063.71L939.40 1033.31M909.00 1073.60L939.40 1043.20M909.00 1083.49L939.40 1053.09M909.00 1093.38L939.40 1062.98M909.00 1103.27L939.40 1072.87M909.00 1113.16L939.40 1082.76M909.00 1123.05L939.40 1092.65M918.74 1123.20L939.40 1102.54M928.63 1123.20L939.40 1112.43M938.52 1123.20L939.40 1122.32" stroke="#000" stroke-width="1.35" fill="none"/>
<rect x="909.00" y="996.10" width="30.40" height="127.10" fill="none" stroke="#000" stroke-width="1.35"/>
<path d="M939.40 982.22L949.22 972.40M939.40 992.08L959.08 972.40M939.40 1001.93L968.93 972.40M939.40 1011.79L969.80 981.39M939.40 1021.64L969.80 991.24M939.40 1031.50L969.80 1001.10M939.40 1041.36L969.80 1010.96M939.40 1051.21L969.80 1020.81M939.40 1061.07L969.80 1030.67M939.40 1070.92L969.80 1040.52M939.40 1080.78L969.80 1050.38M939.40 1090.64L969.80 1060.24M939.40 1100.49L969.80 1070.09M939.40 1110.35L969.80 1079.95M939.40 1120.20L969.80 1089.80M946.26 1123.20L969.80 1099.66M956.12 1123.20L969.80 1109.52M965.97 1123.20L969.80 1119.37M939.40 1119.86L942.74 1123.20M939.40 1110.01L952.59 1123.20M939.40 1100.15L962.45 1123.20M939.40 1090.30L969.80 1120.70M939.40 1080.44L969.80 1110.84M939.40 1070.58L969.80 1100.98M939.40 1060.73L969.80 1091.13M939.40 1050.87L969.80 1081.27M939.40 1041.02L969.80 1071.42M939.40 1031.16L969.80 1061.56M939.40 1021.30L969.80 1051.70M939.40 1011.45L969.80 1041.85M939.40 1001.59L969.80 1031.99M939.40 991.74L969.80 1022.14M939.40 981.88L969.80 1012.28M939.78 972.40L969.80 1002.42M949.63 972.40L969.80 992.57M959.49 972.40L969.80 982.71M969.34 972.40L969.80 972.86" stroke="#000" stroke-width="1.35" fill="none"/>
<rect x="939.40" y="972.40" width="30.40" height="150.80" fill="none" stroke="#000" stroke-width="1.35"/>
<path d="M168.40 1022.60 V1045.00 M160.75 1022.60 H176.05 M160.75 1045.00 H176.05" stroke="#000" stroke-width="1.40" fill="none"/>
<text transform="translate(168.1,1012.8) scale(1.020,1)" font-size="35.0" text-anchor="middle" stroke="#000" stroke-width="0.2">a</text>
<path d="M198.80 981.10 V1015.30 M191.15 981.10 H206.45 M191.15 1015.30 H206.45" stroke="#000" stroke-width="1.40" fill="none"/>
<text transform="translate(199.0,975.4) scale(1.020,1)" font-size="35.0" text-anchor="middle" stroke="#000" stroke-width="0.2">b</text>
<path d="M229.20 941.80 V962.90 M221.55 941.80 H236.85 M221.55 962.90 H236.85" stroke="#000" stroke-width="1.40" fill="none"/>
<text transform="translate(229.1,930.6) scale(1.020,1)" font-size="35.0" text-anchor="middle" stroke="#000" stroke-width="0.2">c</text>
<path d="M259.60 903.10 V929.10 M251.95 903.10 H267.25 M251.95 929.10 H267.25" stroke="#000" stroke-width="1.40" fill="none"/>
<text transform="translate(260.5,893.2) scale(1.020,1)" font-size="35.0" text-anchor="middle" stroke="#000" stroke-width="0.2">d</text>
<path d="M342.15 954.90 V1007.50 M334.50 954.90 H349.80 M334.50 1007.50 H349.80" stroke="#000" stroke-width="1.40" fill="none"/>
<text transform="translate(342.4,938.4) scale(1.020,1)" font-size="35.0" text-anchor="middle" stroke="#000" stroke-width="0.2">a</text>
<path d="M372.55 952.80 V997.90 M364.90 952.80 H380.20 M364.90 997.90 H380.20" stroke="#000" stroke-width="1.40" fill="none"/>
<text transform="translate(375.7,938.4) scale(1.020,1)" font-size="35.0" text-anchor="middle" stroke="#000" stroke-width="0.2">a</text>
<path d="M402.95 960.80 V979.70 M395.30 960.80 H410.60 M395.30 979.70 H410.60" stroke="#000" stroke-width="1.40" fill="none"/>
<text transform="translate(403.2,951.1) scale(1.020,1)" font-size="35.0" text-anchor="middle" stroke="#000" stroke-width="0.2">a</text>
<path d="M433.35 919.20 V945.90 M425.70 919.20 H441.00 M425.70 945.90 H441.00" stroke="#000" stroke-width="1.40" fill="none"/>
<text transform="translate(434.4,909.5) scale(1.020,1)" font-size="35.0" text-anchor="middle" stroke="#000" stroke-width="0.2">b</text>
<path d="M515.90 988.50 V1017.30 M508.25 988.50 H523.55 M508.25 1017.30 H523.55" stroke="#000" stroke-width="1.40" fill="none"/>
<text transform="translate(517.8,975.5) scale(1.020,1)" font-size="35.0" text-anchor="middle" stroke="#000" stroke-width="0.2">a</text>
<path d="M546.30 945.90 V1013.70 M538.65 945.90 H553.95 M538.65 1013.70 H553.95" stroke="#000" stroke-width="1.40" fill="none"/>
<text transform="translate(546.7,937.2) scale(1.020,1)" font-size="35.0" text-anchor="middle" stroke="#000" stroke-width="0.2">a</text>
<path d="M576.70 985.60 V1031.40 M569.05 985.60 H584.35 M569.05 1031.40 H584.35" stroke="#000" stroke-width="1.40" fill="none"/>
<text transform="translate(577.6,973.5) scale(1.020,1)" font-size="35.0" text-anchor="middle" stroke="#000" stroke-width="0.2">a</text>
<path d="M607.10 873.40 V907.20 M599.45 873.40 H614.75 M599.45 907.20 H614.75" stroke="#000" stroke-width="1.40" fill="none"/>
<text transform="translate(610.5,864.0) scale(1.020,1)" font-size="35.0" text-anchor="middle" stroke="#000" stroke-width="0.2">b</text>
<path d="M689.65 991.60 V1019.30 M682.00 991.60 H697.30 M682.00 1019.30 H697.30" stroke="#000" stroke-width="1.40" fill="none"/>
<text transform="translate(690.1,985.1) scale(1.020,1)" font-size="35.0" text-anchor="middle" stroke="#000" stroke-width="0.2">a</text>
<path d="M720.05 968.40 V1005.50 M712.40 968.40 H727.70 M712.40 1005.50 H727.70" stroke="#000" stroke-width="1.40" fill="none"/>
<text transform="translate(720.8,958.8) scale(1.020,1)" font-size="35.0" text-anchor="middle" stroke="#000" stroke-width="0.2">a</text>
<path d="M750.45 995.60 V1008.40 M742.80 995.60 H758.10 M742.80 1008.40 H758.10" stroke="#000" stroke-width="1.40" fill="none"/>
<text transform="translate(750.9,979.5) scale(1.020,1)" font-size="35.0" text-anchor="middle" stroke="#000" stroke-width="0.2">a</text>
<path d="M780.85 930.50 V964.10 M773.20 930.50 H788.50 M773.20 964.10 H788.50" stroke="#000" stroke-width="1.40" fill="none"/>
<text transform="translate(783.2,924.0) scale(1.020,1)" font-size="35.0" text-anchor="middle" stroke="#000" stroke-width="0.2">b</text>
<path d="M863.40 946.80 V994.00 M855.75 946.80 H871.05 M855.75 994.00 H871.05" stroke="#000" stroke-width="1.40" fill="none"/>
<text transform="translate(863.9,938.0) scale(1.020,1)" font-size="35.0" text-anchor="middle" stroke="#000" stroke-width="0.2">a</text>
<path d="M893.80 969.50 V986.50 M886.15 969.50 H901.45 M886.15 986.50 H901.45" stroke="#000" stroke-width="1.40" fill="none"/>
<text transform="translate(894.8,962.2) scale(1.020,1)" font-size="35.0" text-anchor="middle" stroke="#000" stroke-width="0.2">a</text>
<path d="M924.20 971.60 V1020.40 M916.55 971.60 H931.85 M916.55 1020.40 H931.85" stroke="#000" stroke-width="1.40" fill="none"/>
<text transform="translate(925.5,961.6) scale(1.020,1)" font-size="35.0" text-anchor="middle" stroke="#000" stroke-width="0.2">a</text>
<path d="M954.60 950.50 V993.70 M946.95 950.50 H962.25 M946.95 993.70 H962.25" stroke="#000" stroke-width="1.40" fill="none"/>
<text transform="translate(956.4,938.8) scale(1.020,1)" font-size="35.0" text-anchor="middle" stroke="#000" stroke-width="0.2">a</text>
<path d="M127.10 826.05 V1131.50" stroke="#000" stroke-width="1.50" fill="none"/>
<path d="M112.10 1123.20 H996.65" stroke="#000" stroke-width="1.50" fill="none"/>
<path d="M112.10 1123.20 H127.10" stroke="#000" stroke-width="1.50"/>
<text x="102.1" y="1132.7" font-size="36.5" text-anchor="end">0</text>
<path d="M119.60 1093.56 H127.10" stroke="#000" stroke-width="1.50"/>
<path d="M112.10 1063.92 H127.10" stroke="#000" stroke-width="1.50"/>
<text x="102.1" y="1073.4" font-size="36.5" text-anchor="end">10</text>
<path d="M119.60 1034.28 H127.10" stroke="#000" stroke-width="1.50"/>
<path d="M112.10 1004.64 H127.10" stroke="#000" stroke-width="1.50"/>
<text x="102.1" y="1014.1" font-size="36.5" text-anchor="end">20</text>
<path d="M119.60 975.00 H127.10" stroke="#000" stroke-width="1.50"/>
<path d="M112.10 945.36 H127.10" stroke="#000" stroke-width="1.50"/>
<text x="102.1" y="954.9" font-size="36.5" text-anchor="end">30</text>
<path d="M119.60 915.72 H127.10" stroke="#000" stroke-width="1.50"/>
<path d="M112.10 886.08 H127.10" stroke="#000" stroke-width="1.50"/>
<text x="102.1" y="895.6" font-size="36.5" text-anchor="end">40</text>
<path d="M119.60 856.44 H127.10" stroke="#000" stroke-width="1.50"/>
<path d="M112.10 826.80 H127.10" stroke="#000" stroke-width="1.50"/>
<text x="102.1" y="836.3" font-size="36.5" text-anchor="end">50</text>
<path d="M214.00 1123.20 V1138.70" stroke="#000" stroke-width="1.50"/>
<text x="213.4" y="1175.3" font-size="36" text-anchor="middle">3</text>
<path d="M300.88 1123.20 V1131.20" stroke="#000" stroke-width="1.50"/>
<path d="M387.75 1123.20 V1138.70" stroke="#000" stroke-width="1.50"/>
<text x="387.1" y="1175.3" font-size="36" text-anchor="middle">7</text>
<path d="M474.62 1123.20 V1131.20" stroke="#000" stroke-width="1.50"/>
<path d="M561.50 1123.20 V1138.70" stroke="#000" stroke-width="1.50"/>
<text x="560.9" y="1175.3" font-size="36" text-anchor="middle">14</text>
<path d="M648.38 1123.20 V1131.20" stroke="#000" stroke-width="1.50"/>
<path d="M735.25 1123.20 V1138.70" stroke="#000" stroke-width="1.50"/>
<text x="734.6" y="1175.3" font-size="36" text-anchor="middle">21</text>
<path d="M822.12 1123.20 V1131.20" stroke="#000" stroke-width="1.50"/>
<path d="M909.00 1123.20 V1138.70" stroke="#000" stroke-width="1.50"/>
<text x="908.4" y="1175.3" font-size="36" text-anchor="middle">28</text>
<path d="M995.88 1123.20 V1131.20" stroke="#000" stroke-width="1.50"/>
<text x="141.5" y="844.3" font-size="39.6">C</text>
<text x="562.4" y="1217.8" font-size="39.3" text-anchor="middle">Time (days)</text>
<text transform="translate(39,614.5) rotate(-90)" font-size="39.6" text-anchor="middle">CAT activity (U mg<tspan font-size="23" dy="-16">-1</tspan><tspan dy="16"> protein)</tspan></text>
</g>
</svg>
</body></html>
